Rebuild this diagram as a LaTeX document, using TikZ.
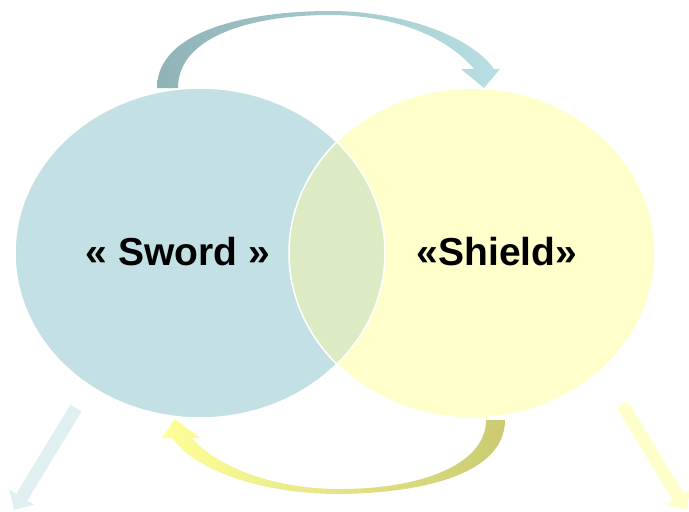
\documentclass[tikz,border=0pt]{standalone}
\usepackage{fontspec}
\setmainfont{Liberation Sans}
\usetikzlibrary{arrows.meta}
\definecolor{swordfill}{HTML}{C3E1E5}
\definecolor{shieldfill}{HTML}{FFFFCC}
\definecolor{overlapfill}{HTML}{DCEBC3}
\definecolor{tealdark}{HTML}{8FB3B6}
\definecolor{teallight}{HTML}{B8DFE3}
\definecolor{olivedark}{HTML}{CACA72}
\definecolor{yellowlight}{HTML}{FFFF99}
\definecolor{diagblue}{HTML}{DFEFF2}
\definecolor{diagyellow}{HTML}{FFFFCC}
\tikzset{
  lbl/.style={font=\fontsize{39}{44}\selectfont\bfseries, text=black},
  diag/.style={line width=13pt, -{Triangle[width=28pt,length=15pt]}}
}
\begin{document}
\begin{tikzpicture}[x=1pt,y=-1pt]
\useasboundingbox (0,0) rectangle (689,512);
% circles
\fill[swordfill] (200,253) ellipse [x radius=185, y radius=165];
\fill[shieldfill] (472,253) ellipse [x radius=183, y radius=165];
\begin{scope}
  \clip (200,253) ellipse [x radius=185, y radius=165];
  \fill[overlapfill] (472,253) ellipse [x radius=183, y radius=165];
\end{scope}
\draw[white, line width=1.5pt] (200,253) ellipse [x radius=185, y radius=165];
\draw[white, line width=1.5pt] (472,253) ellipse [x radius=183, y radius=165];
% top curved arrow
\shade[left color=tealdark, middle color=white, right color=teallight]
  (157,88) .. controls (157,30) and (250,11) .. (330,11)
  .. controls (400,11) and (470,35) .. (494,69)
  -- (500,69) -- (484,88) -- (461,69) -- (474,69)
  .. controls (450,40) and (400,15) .. (330,15)
  .. controls (255,15) and (178,35) .. (178,88) -- cycle;
% bottom curved arrow
\shade[left color=yellowlight, middle color=white, right color=olivedark]
  (505,420) .. controls (505,475) and (420,493) .. (340,494)
  .. controls (260,494) and (195,470) .. (172,438)
  -- (162,438) -- (175,419) -- (200,438) -- (192,438)
  .. controls (215,465) and (270,489) .. (340,489)
  .. controls (420,489) and (486,465) .. (486,420) -- cycle;
% diagonal arrows
\coordinate (la) at (76,408);
\coordinate (lb) at (14,510);
\coordinate (ra) at (622,404);
\coordinate (rb) at (686,510);
\draw[diag, diagblue] (la) -- (lb);
\draw[diag, diagyellow] (ra) -- (rb);
% labels
\node[lbl] (sword) at (178,252) {« Sword »};
\node[lbl] (shield) at (497,252) {«Shield»};
\end{tikzpicture}
\end{document}
